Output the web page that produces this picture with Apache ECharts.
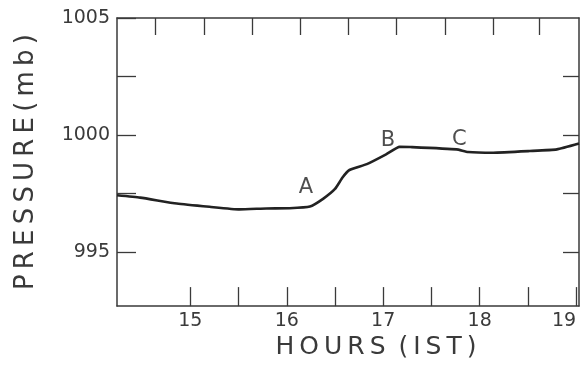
<!DOCTYPE html>
<html><head><meta charset="utf-8">
<script src="https://cdn.jsdelivr.net/npm/echarts@6/dist/echarts.min.js"></script>
<style>html,body{margin:0;padding:0;background:#fff}#c{width:582px;height:365px}</style>
</head><body><div id="c"></div>
<script>
// Data
const hours = [14.24, 14.48, 14.86, 15.20, 15.51, 15.79, 16.03, 16.24, 16.38, 16.50, 16.58, 16.65, 16.83, 17.03, 17.17, 17.28, 17.76, 17.88, 18.14, 18.52, 18.80, 19.03];
const pressure = [997.43, 997.33, 997.08, 996.94, 996.83, 996.87, 996.88, 996.95, 997.29, 997.70, 998.20, 998.51, 998.76, 999.18, 999.50, 999.49, 999.39, 999.28, 999.25, 999.32, 999.39, 999.64];
const xLabels = [15, 16, 17, 18, 19];
const xTicks = [15, 15.5, 16, 16.5, 17, 17.5, 18, 18.5, 19];
const xTopTicks = [14.64, 15.14, 15.64, 16.14, 16.64, 17.14, 17.64, 18.14, 18.62];
const yLabels = [995, 1000, 1005];
const yTicks = [995, 997.5, 1000, 1002.5, 1005];
const annoText = ['A', 'B', 'C'];
const annoX = [16.20, 17.05, 17.79];
const annoY = [997.78, 999.75, 999.79];

const ink = '#3a3a3a';
const font = 'DejaVu Sans';
const chart = echarts.init(document.getElementById('c'));
chart.setOption({
  animation: false,
  backgroundColor: '#fff',
  grid: {left: 117, right: 3, top: 18, bottom: 54},
  xAxis: [{
    type: 'value', min: 14.24, max: 19.03, position: 'bottom',
    axisLine: {lineStyle: {color: ink, width: 1.5}},
    axisTick: {inside: true, length: 19, customValues: xTicks, lineStyle: {color: ink, width: 1.3}},
    axisLabel: {customValues: xLabels, color: ink, fontFamily: font, fontSize: 19, margin: 5, alignMaxLabel: 'right', formatter: v => String(v)},
    splitLine: {show: false},
    name: 'H\u2009O\u2009U\u2009R\u2009S\u2009 (\u2009I\u2009S\u2009T\u2009)', nameLocation: 'middle', nameGap: 28,
    nameTextStyle: {color: ink, fontFamily: font, fontSize: 25, padding: [0, 0, 0, 56]}
  }, {
    type: 'value', min: 14.24, max: 19.03, position: 'top',
    axisLine: {lineStyle: {color: ink, width: 1.5}},
    axisTick: {inside: true, length: 17, customValues: xTopTicks, lineStyle: {color: ink, width: 1.3}},
    axisLabel: {show: false}, splitLine: {show: false}
  }],
  yAxis: [{
    type: 'value', min: 992.7, max: 1005, position: 'left',
    axisLine: {show: true, lineStyle: {color: ink, width: 1.5}},
    axisTick: {show: true, inside: true, length: 19, customValues: yTicks, lineStyle: {color: ink, width: 1.3}},
    axisLabel: {customValues: yLabels, color: ink, fontFamily: font, fontSize: 19, margin: 7, formatter: v => String(v)},
    splitLine: {show: false},
    name: 'P\u2009R\u2009E\u2009S\u2009S\u2009U\u2009R\u2009E\u2009(\u2009m\u2009b\u2009)', nameLocation: 'middle', nameGap: 78,
    nameTextStyle: {color: ink, fontFamily: font, fontSize: 26}
  }, {
    type: 'value', min: 992.7, max: 1005, position: 'right',
    axisLine: {show: true, lineStyle: {color: ink, width: 1.5}},
    axisTick: {show: true, inside: true, length: 16, customValues: yTicks.slice(0, 4), lineStyle: {color: ink, width: 1.3}},
    axisLabel: {show: false}, splitLine: {show: false}
  }],
  series: [{
    type: 'line', xAxisIndex: 0, yAxisIndex: 0,
    data: hours.map((h, i) => [h, pressure[i]]),
    showSymbol: false, smooth: 0.15,
    lineStyle: {color: '#222', width: 2.6}
  }, {
    type: 'scatter', xAxisIndex: 0, yAxisIndex: 0,
    data: annoX.map((x, i) => [x, annoY[i], annoText[i]]),
    symbolSize: 0,
    label: {show: true, position: 'inside', formatter: p => p.data[2], color: '#222', fontFamily: font, fontSize: 21}
  }]
});
</script></body></html>
